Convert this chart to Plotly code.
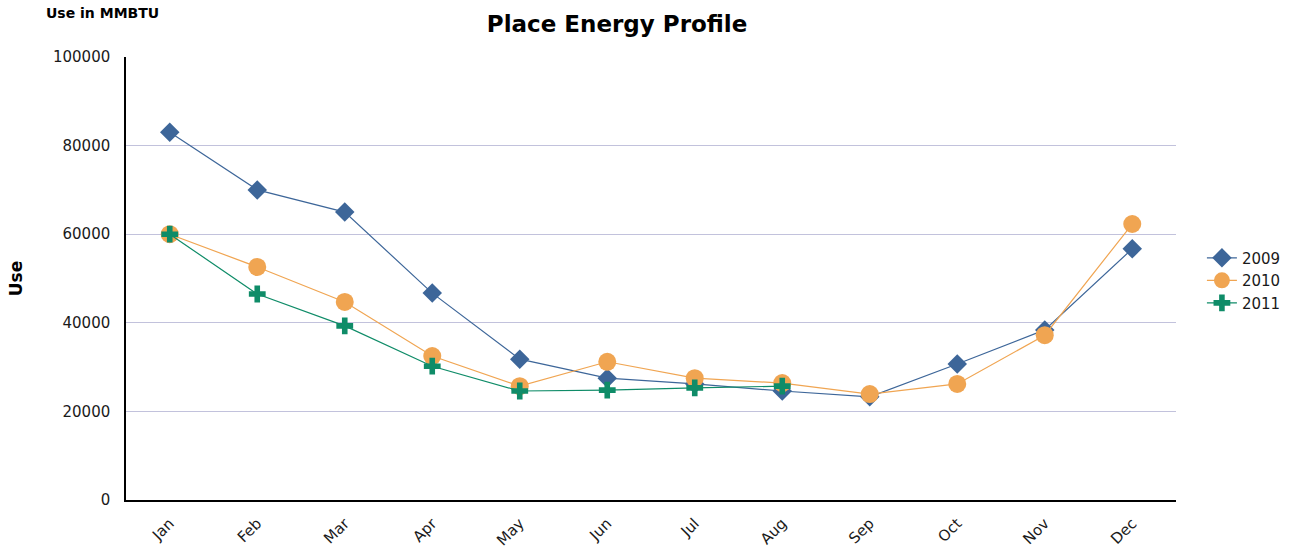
"""Place Energy Profile line chart."""

import plotly.graph_objects as go

MONTHS = ["Jan", "Feb", "Mar", "Apr", "May", "Jun",
          "Jul", "Aug", "Sep", "Oct", "Nov", "Dec"]

USE_2009 = [83000, 70000, 65000, 46700, 31800, 27500,
            26200, 24600, 23300, 30700, 38400, 56700]
USE_2010 = [60000, 52600, 44700, 32500, 25700, 31200,
            27500, 26400, 23900, 26200, 37200, 62300]
USE_2011 = [60000, 46500, 39300, 30200, 24600, 24800,
            25300, 25700]

Y_TICKS = [0, 20000, 40000, 60000, 80000, 100000]

FONT = "DejaVu Sans, Verdana, sans-serif"

fig = go.Figure()

series = [
    ("2009", USE_2009, "#3d6699", "diamond", 15),
    ("2010", USE_2010, "#f0a552", "circle", 18),
    ("2011", USE_2011, "#0f8c68", "cross", 14),
]

for name, values, color, symbol, size in series:
    fig.add_trace(go.Scatter(
        x=MONTHS[:len(values)],
        y=values,
        name=name,
        mode="lines+markers",
        line=dict(color=color, width=1.2),
        marker=dict(symbol=symbol, size=size, color=color,
                    line=dict(width=0)),
    ))

fig.update_layout(
    width=1291,
    height=548,
    template="plotly_white",
    plot_bgcolor="white",
    paper_bgcolor="white",
    font=dict(family=FONT, size=15, color="#1a1a1a"),
    margin=dict(l=126, r=115, t=57, b=48),
    title=dict(
        text="<b>Place Energy Profile</b>",
        font=dict(size=23, color="black"),
        x=0.478, xanchor="center",
        yref="container", y=0.956, yanchor="middle",
    ),
    xaxis=dict(
        type="category",
        categoryorder="array",
        categoryarray=MONTHS,
        range=[-0.5, 11.5],
        automargin=False,
        showgrid=False,
        showline=True,
        linecolor="black",
        linewidth=1.5,
        tickangle=-45,
        ticks="outside",
        ticklen=7,
        tickcolor="rgba(0,0,0,0)",
        tickfont=dict(size=15, color="#1a1a1a"),
        zeroline=False,
    ),
    yaxis=dict(
        range=[0, 100000],
        tickvals=Y_TICKS,
        tickformat="d",
        automargin=False,
        showgrid=True,
        gridcolor="#c2c2dc",
        gridwidth=1,
        showline=True,
        linecolor="black",
        linewidth=1.5,
        zeroline=False,
        ticks="outside",
        ticklen=11,
        tickcolor="rgba(0,0,0,0)",
        title=dict(text="<b>Use</b>", font=dict(size=17, color="black"),
                   standoff=26),
        tickfont=dict(size=15, color="#1a1a1a"),
    ),
    legend=dict(
        xref="container", yref="container",
        x=0.931, y=0.488,
        xanchor="left", yanchor="middle",
        font=dict(size=15, color="#1a1a1a"),
        tracegroupgap=0,
        itemwidth=30,
        bgcolor="rgba(0,0,0,0)",
    ),
    showlegend=True,
)

fig.add_annotation(
    text="<b>Use in MMBTU</b>",
    xref="paper", yref="paper",
    x=-0.078, y=1.10,
    xanchor="left", yanchor="middle",
    showarrow=False,
    font=dict(size=14, color="black"),
)

# drop the default page margin so the figure sits at the window's corner
fig.write_html(
    "out.html",
    config={"displayModeBar": False},
    post_script="document.body.style.margin='0';",
)
